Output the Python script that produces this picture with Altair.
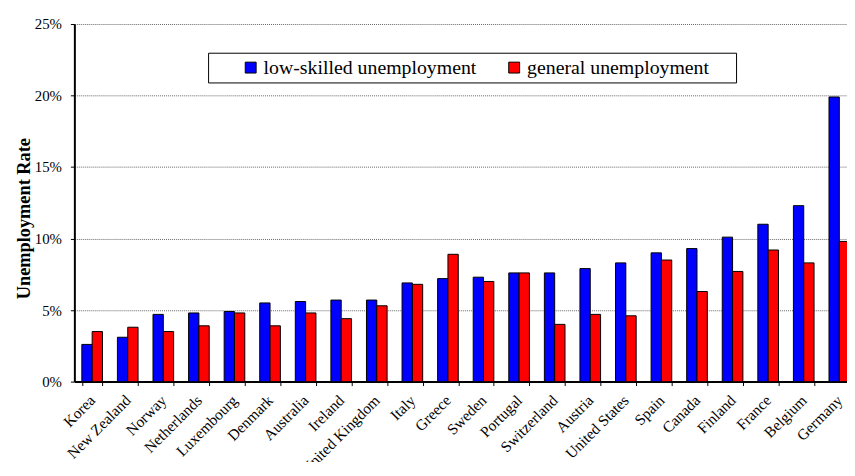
import altair as alt
import pandas as pd

countries = ["Korea", "New Zealand", "Norway", "Netherlands", "Luxembourg", "Denmark",
             "Australia", "Ireland", "United Kingdom", "Italy", "Greece", "Sweden",
             "Portugal", "Switzerland", "Austria", "United States", "Spain", "Canada",
             "Finland", "France", "Belgium", "Germany"]
low_skilled = [2.6, 3.1, 4.7, 4.8, 4.9, 5.5, 5.6, 5.7, 5.7, 6.9, 7.2, 7.3,
               7.6, 7.6, 7.9, 8.3, 9.0, 9.3, 10.1, 11.0, 12.3, 19.9]
general = [3.5, 3.8, 3.5, 3.9, 4.8, 3.9, 4.8, 4.4, 5.3, 6.8, 8.9, 7.0,
           7.6, 4.0, 4.7, 4.6, 8.5, 6.3, 7.7, 9.2, 8.3, 9.8]
series_names = ["low-skilled unemployment", "general unemployment"]
series_colors = ["#0000FF", "#FF0000"]
y_ticks = [0, 0.05, 0.10, 0.15, 0.20, 0.25]

rows = []
for c, lo, ge in zip(countries, low_skilled, general):
    rows.append({"country": c, "series": series_names[0], "value": lo / 100})
    rows.append({"country": c, "series": series_names[1], "value": ge / 100})
df = pd.DataFrame(rows)

FONT = "Liberation Serif"

chart = alt.Chart(df).mark_bar(stroke="black", strokeWidth=1, clip=True).encode(
    x=alt.X("country:N", sort=countries,
            scale=alt.Scale(range=[0, 790.2], paddingInner=0.42, paddingOuter=0.21),
            axis=alt.Axis(title=None, labelAngle=-45, labelAlign="right", labelBaseline="middle",
                          labelFont=FONT, labelFontSize=15.5, labelColor="black", labelPadding=12,
                          labelOverlap=False, labelLimit=0,
                          tickBand="extent", tickSize=4, tickColor="black", tickWidth=1,
                          domainColor="black", domainWidth=2, grid=False)),
    xOffset=alt.XOffset("series:N", sort=series_names,
                        scale=alt.Scale(paddingInner=0, paddingOuter=0)),
    y=alt.Y("value:Q", scale=alt.Scale(domain=[0, 0.25], nice=False),
            axis=alt.Axis(values=y_ticks, format=".0%", title="Unemployment Rate",
                          labelFont=FONT, labelFontSize=15, labelColor="black", labelPadding=9,
                          tickSize=4, tickColor="black", domainColor="black", domainWidth=2,
                          grid=True, gridColor="#666666", gridDash=[1, 1], gridWidth=1,
                          titleFont=FONT, titleFontSize=18.5, titleFontWeight="bold",
                          titleColor="black", titlePadding=1, titleY=196)),
    color=alt.Color("series:N", sort=series_names,
                    scale=alt.Scale(domain=series_names, range=series_colors),
                    legend=alt.Legend(orient="none", legendX=135, legendY=29,
                                      direction="horizontal",
                                      title="\u00a0", titleOrient="right", titlePadding=22,
                                      titleFont=FONT, titleFontSize=20,
                                      strokeColor="black", fillColor="white", padding=5,
                                      symbolType="square", symbolSize=121,
                                      symbolStrokeColor="black", symbolStrokeWidth=1,
                                      symbolOffset=28, labelOffset=3, columnPadding=0,
                                      labelFont=FONT, labelFontSize=20, labelColor="black",
                                      labelLimit=0)),
).properties(
    width=780, height=361,
    autosize=alt.AutoSizeParams(type="none"),
    padding={"left": 67, "top": 14, "right": 0, "bottom": 79},
).configure_view(stroke=None)

chart.save("out.html", embed_options={"renderer": "svg", "actions": False})
